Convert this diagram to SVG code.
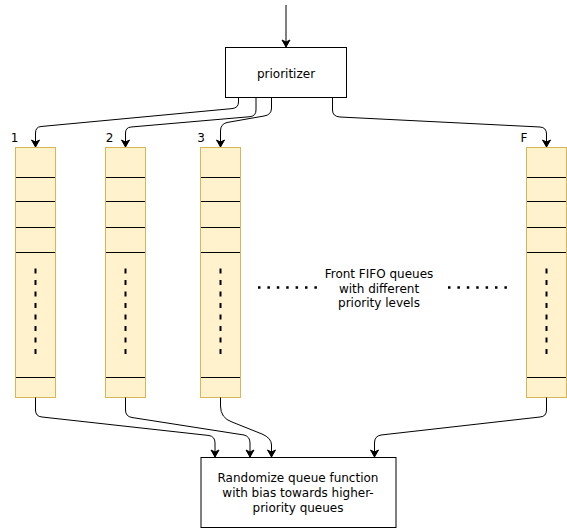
<svg xmlns="http://www.w3.org/2000/svg" width="567" height="528" viewBox="0 0 567 528">
<style>
.box{fill:#fff;stroke:#000;stroke-width:1}
.q{fill:#fff2cc;stroke:#d6b656;stroke-width:1}
.div{stroke:#000;stroke-width:1}
.vd{stroke:#000;stroke-width:2;stroke-dasharray:5 6.5}
.dots{stroke:#000;stroke-width:2.5;stroke-dasharray:2.5 6.9}
.e{fill:none;stroke:#000;stroke-width:1;marker-end:url(#ah)}
text{font-family:"DejaVu Sans","Noto Sans",sans-serif;font-size:12px;fill:#000;text-anchor:middle}
</style>
<defs>
<marker id="ah" markerWidth="10" markerHeight="10" refX="8" refY="5" orient="auto" markerUnits="userSpaceOnUse">
<path d="M1,1 L8,5 L1,9 L3,5 Z" fill="#000" stroke="#000" stroke-width="1"/>
</marker>
<g id="queue">
<rect class="q" x="0" y="0" width="40" height="250"/>
<line class="div" x1="0.5" y1="30" x2="39.5" y2="30"/>
<line class="div" x1="0.5" y1="54" x2="39.5" y2="54"/>
<line class="div" x1="0.5" y1="80" x2="39.5" y2="80"/>
<line class="div" x1="0.5" y1="105" x2="39.5" y2="105"/>
<line class="vd" x1="20" y1="121" x2="20" y2="212"/>
<line class="div" x1="0.5" y1="230" x2="39.5" y2="230"/>
</g>
</defs>

<g id="prioritizer">
<rect class="box" x="225.5" y="47.5" width="121" height="50"/>
<text x="286" y="78">prioritizer</text>
</g>

<g id="queue1"><use href="#queue" x="15.5" y="147.5"/><text x="14.5" y="142">1</text></g>
<g id="queue2"><use href="#queue" x="105.5" y="147.5"/><text x="109.5" y="142">2</text></g>
<g id="queue3"><use href="#queue" x="200.5" y="147.5"/><text x="201" y="142">3</text></g>
<g id="queueF"><use href="#queue" x="526.5" y="147.5"/><text x="524" y="142">F</text></g>

<g id="middle-label">
<line class="dots" x1="258" y1="287.5" x2="318" y2="287.5"/>
<line class="dots" x1="448" y1="287.5" x2="508" y2="287.5"/>
<text x="379" y="278">Front FIFO queues</text>
<text x="379" y="292.5">with different</text>
<text x="379" y="307">priority levels</text>
</g>

<g id="randomizer">
<rect class="box" x="201" y="457.5" width="195" height="70"/>
<text x="298" y="482">Randomize queue function</text>
<text x="298" y="497">with bias towards higher-</text>
<text x="298" y="511.5">priority queues</text>
</g>

<g id="connectors">
<path class="e" d="M286,5 L286,47"/>
<path class="e" d="M238.5,97.5 L238.5,102 Q238.5,108 232,108.6 L41,126.5 Q35.5,127 35.5,133 L35.5,147"/>
<path class="e" d="M256,97.5 L256,110 Q256,116 250,116.7 L131,127 Q125.5,127.5 125.5,133 L125.5,147"/>
<path class="e" d="M271.5,97.5 L271.5,108 Q271.5,115 264,116 L227,122.5 Q220.5,124 220.5,131 L220.5,147"/>
<path class="e" d="M332.5,97.5 L332.5,110 Q332.5,116.5 340,117 L540,127 Q546.5,127.5 546.5,134 L546.5,147"/>
<path class="e" d="M35.5,397.5 L35.5,410 Q35.5,416.5 42,417 L209,435.5 Q215,436.5 215,443 L215,457"/>
<path class="e" d="M125.5,397.5 L125.5,410 Q125.5,416.5 132,417.5 L244,435 Q250,436.5 250,443 L250,457"/>
<path class="e" d="M220.5,397.5 L220.5,406 Q220.5,418 232,422 L262,434 Q271.5,438 271.5,445 L271.5,457"/>
<path class="e" d="M546.5,397.5 L546.5,410 Q546.5,416.5 540,417 L381,435 Q374.5,436 374.5,443 L374.5,457"/>
</g>
</svg>
